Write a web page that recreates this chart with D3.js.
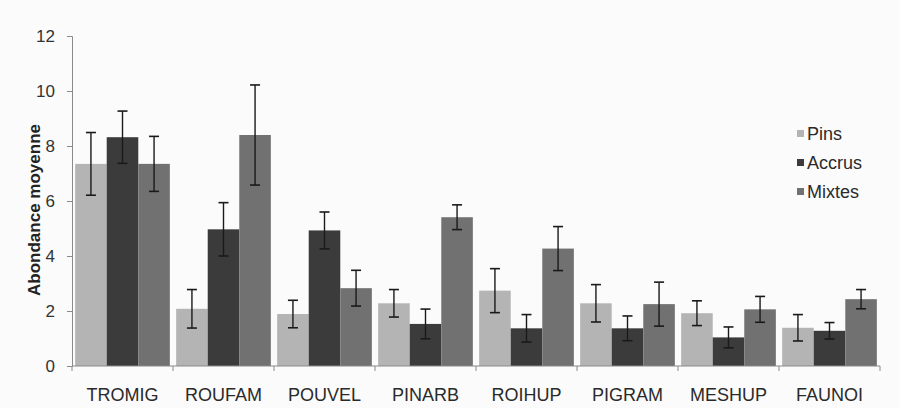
<!DOCTYPE html>
<html><head><meta charset="utf-8">
<script src="https://cdn.jsdelivr.net/npm/d3@7"></script>
<style>body{margin:0;background:#fbfbfb;} svg{display:block;font-family:"Liberation Sans",Arial,sans-serif;}</style>
</head><body><svg id="c" width="899" height="408"></svg>
<script>
const categories = ["TROMIG","ROUFAM","POUVEL","PINARB","ROIHUP","PIGRAM","MESHUP","FAUNOI"];
const seriesNames = ["Pins","Accrus","Mixtes"];
const pins   = [7.35, 2.08, 1.89, 2.28, 2.74, 2.28, 1.92, 1.39];
const accrus = [8.32, 4.97, 4.93, 1.53, 1.37, 1.37, 1.04, 1.28];
const mixtes = [7.35, 8.40, 2.83, 5.41, 4.27, 2.25, 2.06, 2.43];
const pinsErr   = [1.14, 0.70, 0.50, 0.50, 0.80, 0.68, 0.45, 0.48];
const accrusErr = [0.95, 0.97, 0.67, 0.54, 0.50, 0.45, 0.38, 0.30];
const mixtesErr = [1.00, 1.82, 0.65, 0.45, 0.80, 0.80, 0.47, 0.35];
const yTicks = [0,2,4,6,8,10,12];
const colors = ["#b4b4b4","#3b3b3b","#717171"];

(function(){
const values = [pins, accrus, mixtes];
const errs = [pinsErr, accrusErr, mixtesErr];
const svg = d3.select("#c");
const mL = 72, mR = 880, mT = 36, mB = 366;
const x0 = d3.scaleBand().domain(categories).range([mL, mR]).paddingInner(0).paddingOuter(0);
const x1 = d3.scaleBand().domain(seriesNames).range([0, x0.bandwidth()]).paddingOuter(0.1).paddingInner(0);
const y = d3.scaleLinear().domain([0,12]).range([mB, mT]);

const yAxis = d3.axisLeft(y).tickValues(yTicks).tickSize(5).tickPadding(12);
const ga = svg.append("g").attr("transform",`translate(${mL},0)`).call(yAxis);
ga.select(".domain").attr("stroke","#8a8a8a");
ga.selectAll(".tick line").attr("stroke","#8a8a8a");
ga.selectAll(".tick text").attr("font-size",17).attr("fill","#333").attr("font-family","'Liberation Sans',Arial,sans-serif");

categories.forEach((c,i)=>{
  const g = svg.append("g").attr("transform",`translate(${x0(c)},0)`);
  seriesNames.forEach((s,j)=>{
    const v = values[j][i], e = errs[j][i];
    g.append("rect").attr("x",x1(s)).attr("width",x1.bandwidth()).attr("y",y(v)).attr("height",y(0)-y(v)).attr("fill",colors[j]);
    const cx = x1(s)+x1.bandwidth()/2;
    g.append("line").attr("x1",cx).attr("x2",cx).attr("y1",y(v+e)).attr("y2",y(Math.max(0,v-e))).attr("stroke","#1a1a1a").attr("stroke-width",1.4);
    [v+e, v-e].forEach(t=>{
      g.append("line").attr("x1",cx-5).attr("x2",cx+5).attr("y1",y(t)).attr("y2",y(t)).attr("stroke","#1a1a1a").attr("stroke-width",1.6);
    });
  });
});

const gx = svg.append("g").attr("transform",`translate(0,${mB})`);
gx.append("line").attr("x1",mL).attr("x2",mR).attr("y1",0).attr("y2",0).attr("stroke","#8a8a8a");
const bounds = categories.map(c=>x0(c)).concat([mR]);
bounds.forEach(b=>gx.append("line").attr("x1",b).attr("x2",b).attr("y1",0).attr("y2",5).attr("stroke","#8a8a8a"));
categories.forEach(c=>{
  gx.append("text").attr("x",x0(c)+x0.bandwidth()/2).attr("y",35).attr("text-anchor","middle")
    .attr("font-size",18).attr("fill","#2a2a2a").text(c);
});

svg.append("text").attr("transform","translate(40,210) rotate(-90)").attr("text-anchor","middle")
  .attr("font-size",17).attr("font-weight","bold").attr("fill","#222").text("Abondance moyenne");

seriesNames.forEach((s,j)=>{
  const ly = 140 + j*29;
  svg.append("rect").attr("x",797).attr("y",ly-10).attr("width",7).attr("height",7).attr("fill",colors[j]);
  svg.append("text").attr("x",807).attr("y",ly).attr("font-size",18).attr("fill","#2a2a2a").text(s);
});
})();
</script></body></html>
